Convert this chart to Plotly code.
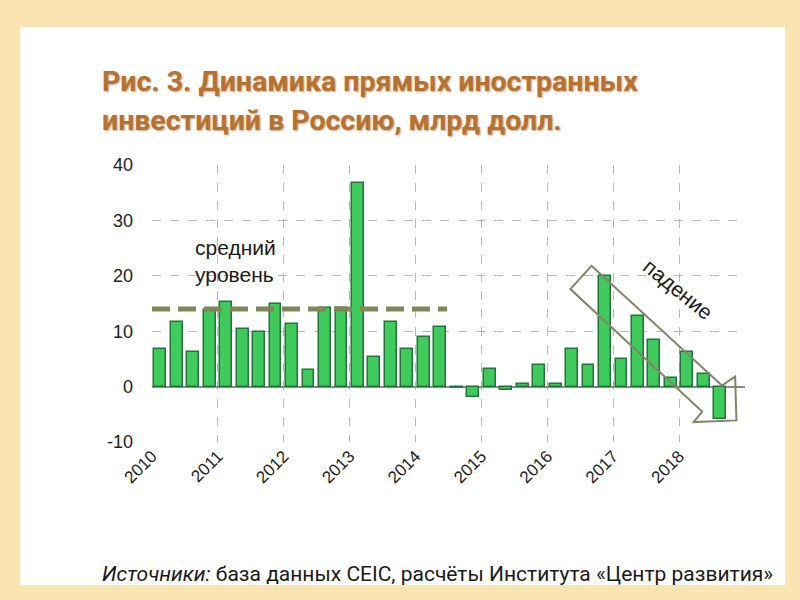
import plotly.graph_objects as go

# ---- data ----
years = list(range(2010, 2019))
quarters = [1, 2, 3, 4]
fdi_values = [
    6.7, 11.6, 6.2, 13.8,    # 2010
    15.3, 10.4, 9.8, 14.9,   # 2011
    11.3, 3.0, 14.1, 14.2,   # 2012
    36.7, 5.4, 11.7, 6.8,    # 2013
    9.0, 10.8, -0.3, -1.8,   # 2014
    3.2, -0.6, 0.4, 3.9,     # 2015
    0.4, 6.8, 3.9, 19.9,     # 2016
    5.0, 12.8, 8.4, 1.5,     # 2017
    6.3, 2.3, -5.8,          # 2018 (Q4 absent)
]
mean_level = 14.0
mean_end = 2014.48
tick_labels = [str(y) for y in years]
y_ticks = [-10, 0, 10, 20, 30, 40]
y_tick_labels = ["-10", "0", "10", "20", "30", "40"]

# positions of quarters along a continuous year axis
x_pos = []
for y in years:
    for q in quarters:
        x_pos.append(y + (q - 0.5) / 4)
x_pos = x_pos[:len(fdi_values)]

# decorative hollow arrow ("падение"), in data units
arrow_x = [2016.67, 2018.65, 2018.85, 2018.87, 2018.22, 2018.35, 2016.35]
arrow_y = [21.8, 0.2, 1.8, -6.1, -6.4, -4.5, 17.6]

fig = go.Figure()
fig.add_trace(go.Bar(
    x=x_pos, y=fdi_values, width=0.18,
    marker=dict(color="#3ecb5c", line=dict(color="#23733a", width=1.5)),
    showlegend=False, hoverinfo="x+y",
))

path = "M " + " L ".join(f"{x},{y}" for x, y in zip(arrow_x, arrow_y)) + " Z"

shapes = [
    # white inner panel
    dict(type="rect", xref="paper", yref="paper",
         x0=-0.222, x1=1.0674, y0=-0.516, y1=1.498,
         fillcolor="white", line=dict(width=0), layer="below"),
    # average level dashed line
    dict(type="line", xref="x", yref="y", x0=2010, x1=mean_end,
         y0=mean_level, y1=mean_level,
         line=dict(color="#7f8759", width=5, dash="18px,8px")),
    # arrow
    dict(type="path", xref="x", yref="y", path=path,
         line=dict(color="#85846a", width=2), fillcolor="rgba(0,0,0,0)"),
]

title_font = dict(family="Roboto", size=28.5, color="#b8712f",
                  shadow="1px 1px 2px #b8a890")
annotations = [
    dict(xref="paper", yref="paper", x=-0.088, y=1.3, xanchor="left", yanchor="middle",
         text="<b>Рис. 3. Динамика прямых иностранных</b>", showarrow=False,
         font=title_font),
    dict(xref="paper", yref="paper", x=-0.088, y=1.16, xanchor="left", yanchor="middle",
         text="<b>инвестиций в Россию, млрд долл.</b>", showarrow=False,
         font=title_font),
    dict(xref="paper", yref="paper", x=-0.088, y=-0.475, xanchor="left", yanchor="middle",
         text="<i>Источники:</i> база данных CEIC, расчёты Института «Центр развития»",
         showarrow=False,
         font=dict(family="Roboto", size=21, color="#1a1a1a")),
    dict(xref="x", yref="y", x=2010.62, y=22.7, xanchor="left", yanchor="middle",
         text="средний<br>уровень", showarrow=False, align="left",
         font=dict(family="Liberation Sans, Arial", size=21, color="#1a1a1a")),
    dict(xref="x", yref="y", x=2017.99, y=17.5, xanchor="center", yanchor="middle",
         text="падение", showarrow=False, textangle=39,
         font=dict(family="Liberation Sans, Arial", size=21, color="#1a1a1a")),
]

fig.update_layout(
    width=800, height=600,
    margin=dict(l=152, r=55, t=165, b=158),
    paper_bgcolor="#f9e4b2",
    plot_bgcolor="white",
    shapes=shapes,
    annotations=annotations,
    bargap=0,
    font=dict(family="Liberation Sans, Arial", size=16, color="#222"),
)
fig.update_xaxes(
    range=[2010, 2019],
    tickvals=years + [2019], ticktext=tick_labels + [""],
    tickangle=-45, showgrid=True, gridcolor="#b8b8b8", griddash="dash", gridwidth=1,
    zeroline=False, showline=False, ticks="",
    tickfont=dict(family="Liberation Sans, Arial", size=17, color="#222"),
)
fig.update_yaxes(
    range=[-10, 40], tickvals=y_ticks, ticktext=y_tick_labels,
    showgrid=True, gridcolor="#b8b8b8", griddash="dash", gridwidth=1,
    zeroline=True, zerolinecolor="#8a8a8a", zerolinewidth=2,
    showline=False, ticks="", ticklabelstandoff=18,
    tickfont=dict(family="Liberation Sans, Arial", size=18, color="#222"),
)

fig.write_html("out.html")
